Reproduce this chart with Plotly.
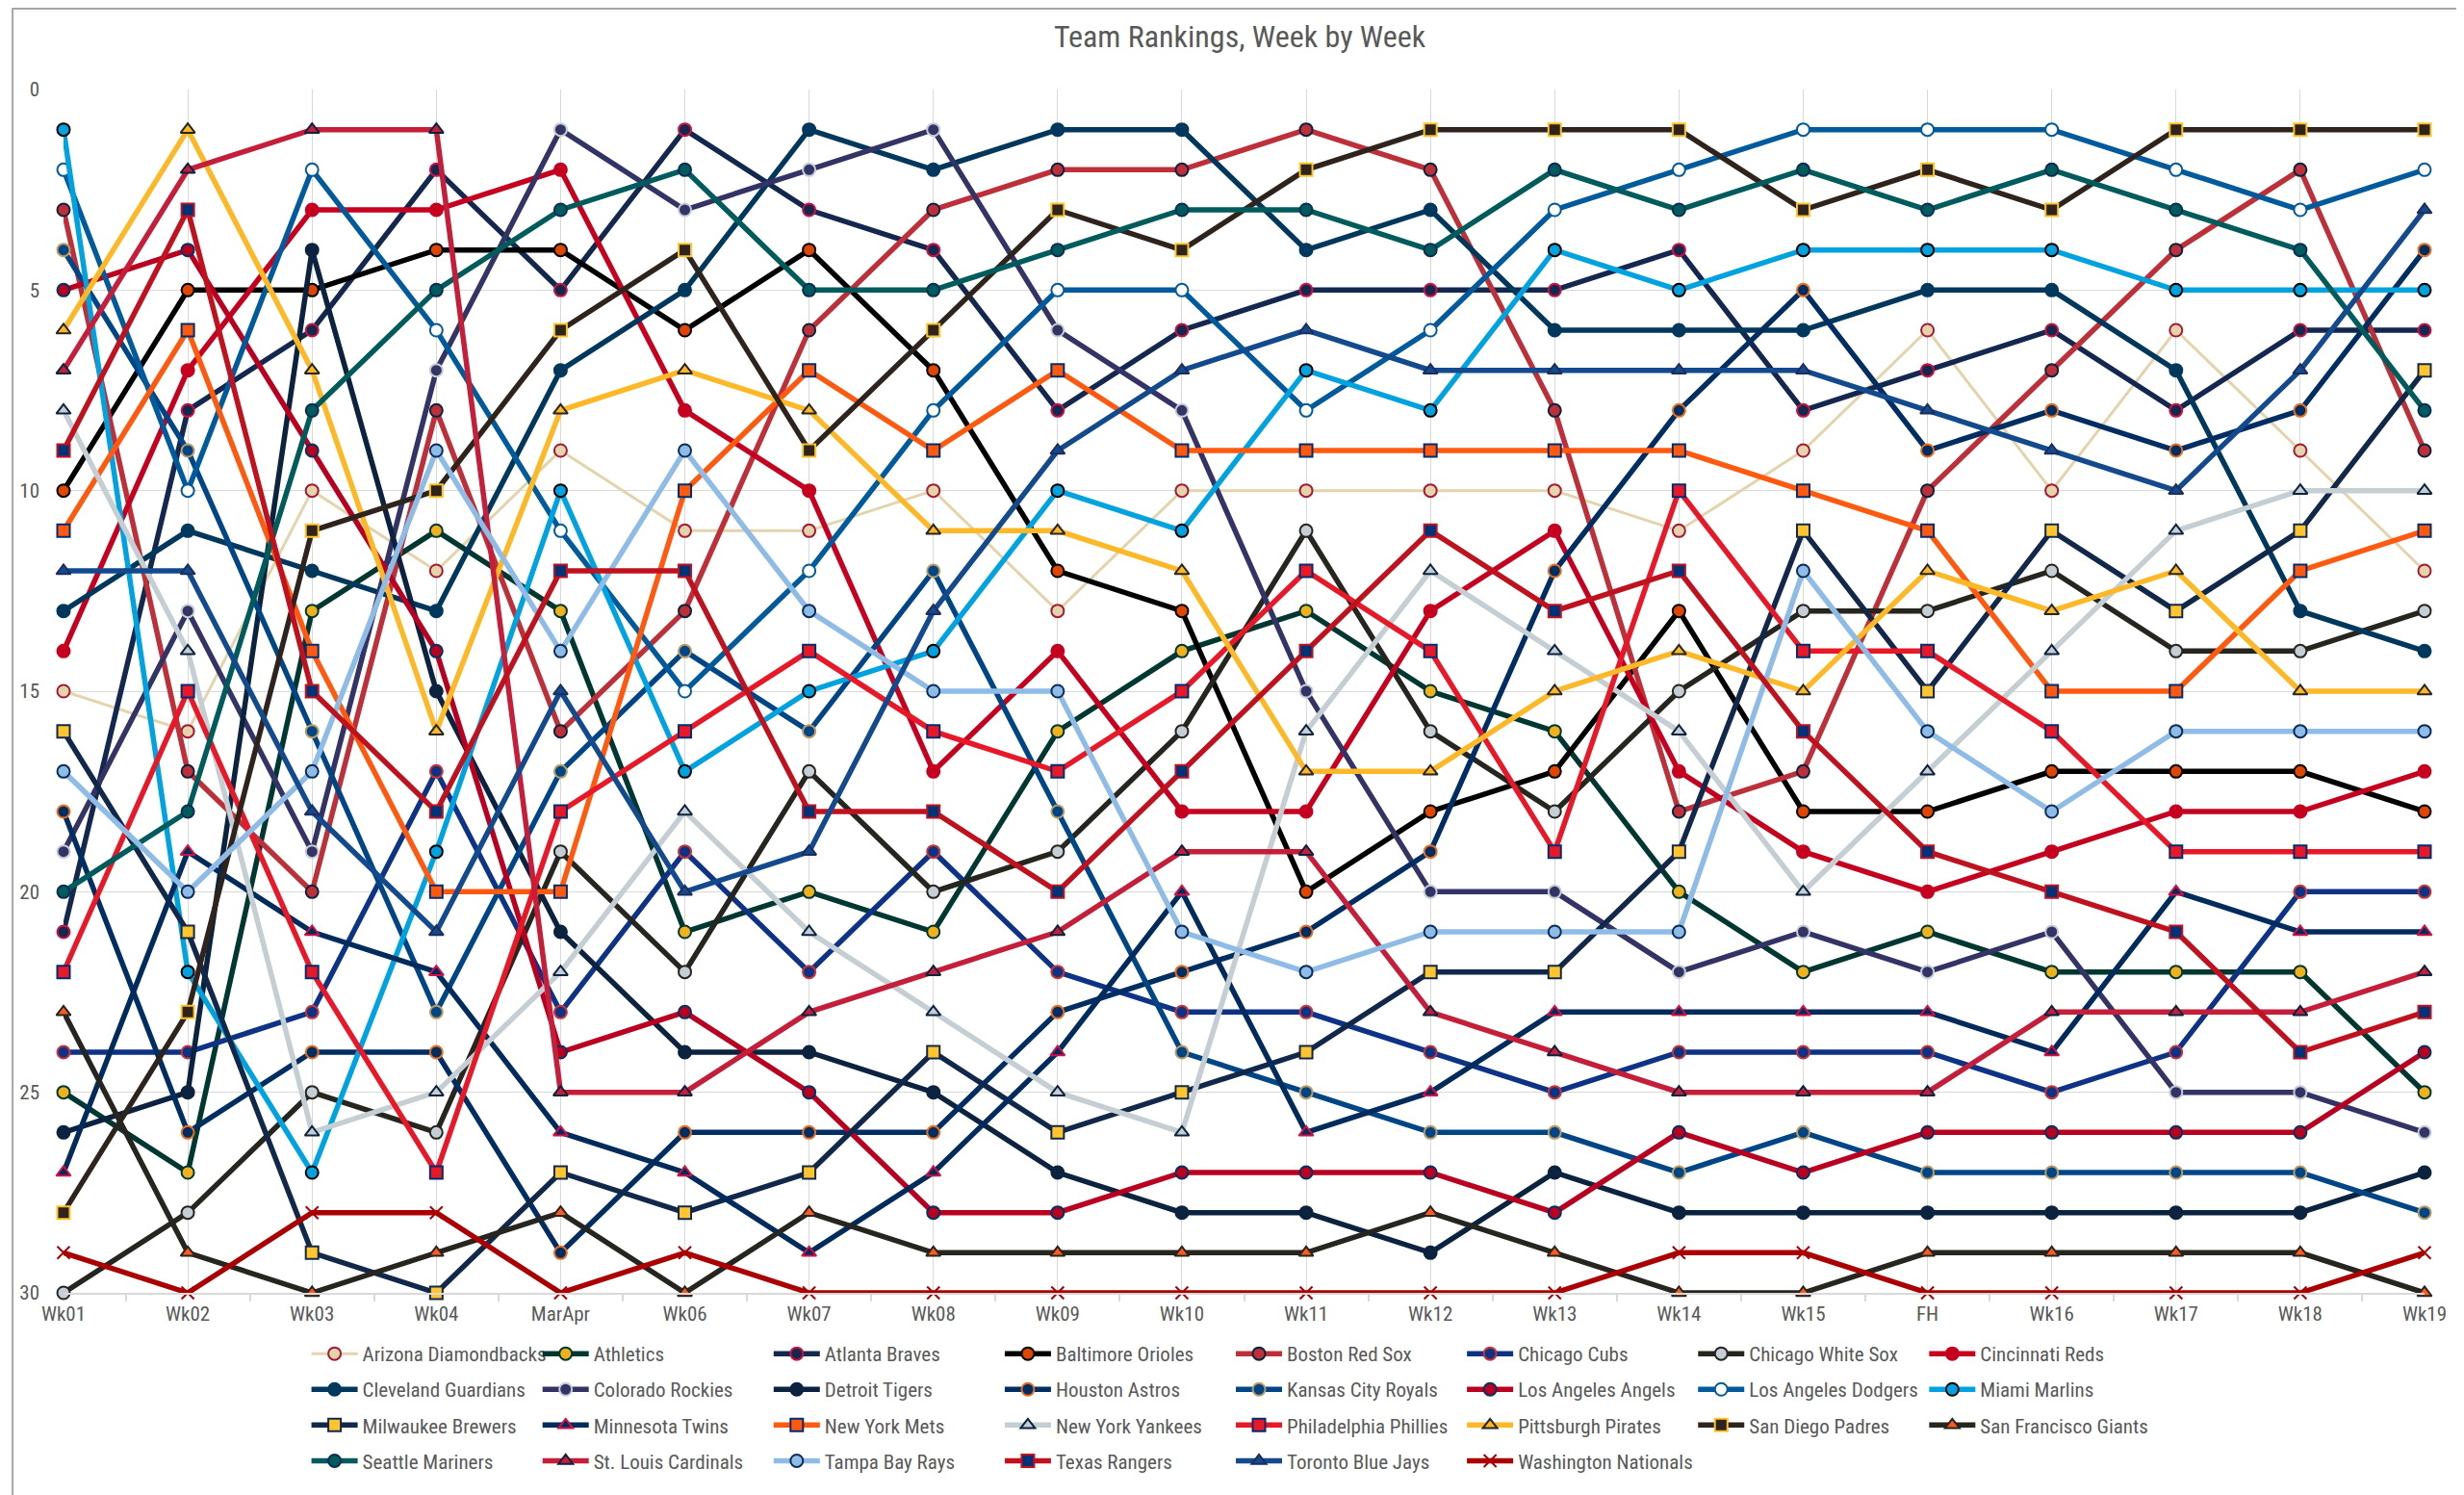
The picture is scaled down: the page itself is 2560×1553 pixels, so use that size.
import plotly.graph_objects as go

weeks = ["Wk01", "Wk02", "Wk03", "Wk04", "MarApr", "Wk06", "Wk07", "Wk08", "Wk09", "Wk10",
         "Wk11", "Wk12", "Wk13", "Wk14", "Wk15", "FH", "Wk16", "Wk17", "Wk18", "Wk19"]

# weekly power ranking of each team (1 = best)
arizona = [15, 16, 10, 12, 9, 11, 11, 10, 13, 10, 10, 10, 10, 11, 9, 6, 10, 6, 9, 12]
athletics = [25, 27, 13, 11, 13, 21, 20, 21, 16, 14, 13, 15, 16, 20, 22, 21, 22, 22, 22, 25]
atlanta = [21, 8, 6, 2, 5, 1, 3, 4, 8, 6, 5, 5, 5, 4, 8, 7, 6, 8, 6, 6]
baltimore = [10, 5, 5, 4, 4, 6, 4, 7, 12, 13, 20, 18, 17, 13, 18, 18, 17, 17, 17, 18]
boston = [3, 17, 20, 8, 16, 13, 6, 3, 2, 2, 1, 2, 8, 18, 17, 10, 7, 4, 2, 9]
cubs = [24, 24, 23, 17, 23, 19, 22, 19, 22, 23, 23, 24, 25, 24, 24, 24, 25, 24, 20, 20]
white_sox = [30, 28, 25, 26, 19, 22, 17, 20, 19, 16, 11, 16, 18, 15, 13, 13, 12, 14, 14, 13]
reds = [14, 7, 3, 3, 2, 8, 10, 17, 14, 18, 18, 13, 11, 17, 19, 20, 19, 18, 18, 17]
cleveland = [13, 11, 12, 13, 7, 5, 1, 2, 1, 1, 4, 3, 6, 6, 6, 5, 5, 7, 13, 14]
rockies = [19, 13, 19, 7, 1, 3, 2, 1, 6, 8, 15, 20, 20, 22, 21, 22, 21, 25, 25, 26]
detroit = [26, 25, 4, 15, 21, 24, 24, 25, 27, 28, 28, 29, 27, 28, 28, 28, 28, 28, 28, 27]
houston = [18, 26, 24, 24, 29, 26, 26, 26, 23, 22, 21, 19, 12, 8, 5, 9, 8, 9, 8, 4]
kansas_city = [4, 9, 16, 23, 17, 14, 16, 12, 18, 24, 25, 26, 26, 27, 26, 27, 27, 27, 27, 28]
angels = [5, 4, 9, 14, 24, 23, 25, 28, 28, 27, 27, 27, 28, 26, 27, 26, 26, 26, 26, 24]
dodgers = [2, 10, 2, 6, 11, 15, 12, 8, 5, 5, 8, 6, 3, 2, 1, 1, 1, 2, 3, 2]
miami = [1, 22, 27, 19, 10, 17, 15, 14, 10, 11, 7, 8, 4, 5, 4, 4, 4, 5, 5, 5]
milwaukee = [16, 21, 29, 30, 27, 28, 27, 24, 26, 25, 24, 22, 22, 19, 11, 15, 11, 13, 11, 7]
twins = [27, 19, 21, 22, 26, 27, 29, 27, 24, 20, 26, 25, 23, 23, 23, 23, 24, 20, 21, 21]
mets = [11, 6, 14, 20, 20, 10, 7, 9, 7, 9, 9, 9, 9, 9, 10, 11, 15, 15, 12, 11]
yankees = [8, 14, 26, 25, 22, 18, 21, 23, 25, 26, 16, 12, 14, 16, 20, 17, 14, 11, 10, 10]
phillies = [22, 15, 22, 27, 18, 16, 14, 16, 17, 15, 12, 14, 19, 10, 14, 14, 16, 19, 19, 19]
pirates = [6, 1, 7, 16, 8, 7, 8, 11, 11, 12, 17, 17, 15, 14, 15, 12, 13, 12, 15, 15]
padres = [28, 23, 11, 10, 6, 4, 9, 6, 3, 4, 2, 1, 1, 1, 3, 2, 3, 1, 1, 1]
giants = [23, 29, 30, 29, 28, 30, 28, 29, 29, 29, 29, 28, 29, 30, 30, 29, 29, 29, 29, 30]
seattle = [20, 18, 8, 5, 3, 2, 5, 5, 4, 3, 3, 4, 2, 3, 2, 3, 2, 3, 4, 8]
cardinals = [7, 2, 1, 1, 25, 25, 23, 22, 21, 19, 19, 23, 24, 25, 25, 25, 23, 23, 23, 22]
tampa_bay = [17, 20, 17, 9, 14, 9, 13, 15, 15, 21, 22, 21, 21, 21, 12, 16, 18, 16, 16, 16]
texas = [9, 3, 15, 18, 12, 12, 18, 18, 20, 17, 14, 11, 13, 12, 16, 19, 20, 21, 24, 23]
toronto = [12, 12, 18, 21, 15, 20, 19, 13, 9, 7, 6, 7, 7, 7, 7, 8, 9, 10, 7, 3]
washington = [29, 30, 28, 28, 30, 29, 30, 30, 30, 30, 30, 30, 30, 29, 29, 30, 30, 30, 30, 29]

teams = [
    ("Arizona Diamondbacks", arizona), ("Athletics", athletics), ("Atlanta Braves", atlanta),
    ("Baltimore Orioles", baltimore), ("Boston Red Sox", boston), ("Chicago Cubs", cubs),
    ("Chicago White Sox", white_sox), ("Cincinnati Reds", reds), ("Cleveland Guardians", cleveland),
    ("Colorado Rockies", rockies), ("Detroit Tigers", detroit), ("Houston Astros", houston),
    ("Kansas City Royals", kansas_city), ("Los Angeles Angels", angels), ("Los Angeles Dodgers", dodgers),
    ("Miami Marlins", miami), ("Milwaukee Brewers", milwaukee), ("Minnesota Twins", twins),
    ("New York Mets", mets), ("New York Yankees", yankees), ("Philadelphia Phillies", phillies),
    ("Pittsburgh Pirates", pirates), ("San Diego Padres", padres), ("San Francisco Giants", giants),
    ("Seattle Mariners", seattle), ("St. Louis Cardinals", cardinals), ("Tampa Bay Rays", tampa_bay),
    ("Texas Rangers", texas), ("Toronto Blue Jays", toronto), ("Washington Nationals", washington),
]

# line colour, marker symbol, marker fill, marker outline
styles = {
    "Arizona Diamondbacks": ("#E3D4AD", "circle", "#E3D4AD", "#A71930"),
    "Athletics": ("#003831", "circle", "#EFB21E", "#003831"),
    "Atlanta Braves": ("#13274F", "circle", "#13274F", "#CE1141"),
    "Baltimore Orioles": ("#000000", "circle", "#DF4601", "#000000"),
    "Boston Red Sox": ("#BD3039", "circle", "#BD3039", "#0C2340"),
    "Chicago Cubs": ("#0E3386", "circle", "#0E3386", "#CC3433"),
    "Chicago White Sox": ("#27251F", "circle", "#C4CED4", "#27251F"),
    "Cincinnati Reds": ("#C6011F", "circle", "#C6011F", "#C6011F"),
    "Cleveland Guardians": ("#00385D", "circle", "#00385D", "#00385D"),
    "Colorado Rockies": ("#333366", "circle", "#333366", "#C4CED4"),
    "Detroit Tigers": ("#0C2340", "circle", "#0C2340", "#0C2340"),
    "Houston Astros": ("#002D62", "circle", "#002D62", "#EB6E1F"),
    "Kansas City Royals": ("#004687", "circle", "#004687", "#BD9B60"),
    "Los Angeles Angels": ("#BA0021", "circle", "#BA0021", "#003263"),
    "Los Angeles Dodgers": ("#005A9C", "circle", "#FFFFFF", "#005A9C"),
    "Miami Marlins": ("#00A3E0", "circle", "#00A3E0", "#000000"),
    "Milwaukee Brewers": ("#12284B", "square", "#FFC52F", "#12284B"),
    "Minnesota Twins": ("#002B5C", "triangle-up", "#002B5C", "#D31145"),
    "New York Mets": ("#FF5910", "square", "#FF5910", "#002D72"),
    "New York Yankees": ("#C4CED3", "triangle-up", "#C4CED3", "#0C2340"),
    "Philadelphia Phillies": ("#E81828", "square", "#E81828", "#002D72"),
    "Pittsburgh Pirates": ("#FDB827", "triangle-up", "#FDB827", "#27251F"),
    "San Diego Padres": ("#2F241D", "square", "#2F241D", "#FFC425"),
    "San Francisco Giants": ("#27251F", "triangle-up", "#FD5A1E", "#27251F"),
    "Seattle Mariners": ("#005C5C", "circle", "#005C5C", "#0C2C56"),
    "St. Louis Cardinals": ("#C41E3A", "triangle-up", "#C41E3A", "#0C2340"),
    "Tampa Bay Rays": ("#8FBCE6", "circle", "#8FBCE6", "#092C5C"),
    "Texas Rangers": ("#C0111F", "square", "#003278", "#C0111F"),
    "Toronto Blue Jays": ("#134A8E", "triangle-up", "#134A8E", "#1D2D5C"),
    "Washington Nationals": ("#AB0003", "x-thin-open", "#AB0003", "#E0001B"),
}

FONT = "Roboto Condensed, Liberation Sans Narrow, Roboto, sans-serif"
GREY = "#595959"

W, H = 2560, 1553
L, R, T, B = 54, 49, 85, 218
pw, ph = W - L - R, H - T - B

fig = go.Figure()
for i, (name, ranks) in enumerate(teams):
    line_color, symbol, fill, outline = styles[name]
    col = i % 8
    fig.add_trace(go.Scatter(
        x=weeks, y=ranks, name=name,
        mode="lines+markers",
        line=dict(color=line_color, width=3 if name == "Arizona Diamondbacks" else 5.5),
        marker=dict(symbol=symbol, size=13, color=fill,
                    line=dict(color=outline, width=2)),
        cliponaxis=False,
        legendgroup=name,
        legend="legend" if col == 0 else "legend%d" % (col + 1),
    ))

# small tick marks between the categories on the bottom axis
fig.add_trace(go.Scatter(x=[0.5], y=[30], xaxis="x2", mode="markers",
                         marker=dict(opacity=0), showlegend=False, hoverinfo="skip"))

# legend laid out as 8 columns x 4 rows (one vertical legend per column)
legends = {}
for col in range(8):
    key = "legend" if col == 0 else "legend%d" % (col + 1)
    x_px = 307 + col * 240.5
    legends[key] = dict(
        x=(x_px - L) / pw, xanchor="left",
        y=(T + ph - 1378) / ph, yanchor="top",
        orientation="v", itemwidth=48, tracegroupgap=6.8,
        font=dict(family=FONT, size=21, color=GREY),
        bgcolor="rgba(0,0,0,0)", traceorder="grouped",
    )

fig.update_layout(
    width=W, height=H,
    margin=dict(l=L, r=R, t=T, b=B),
    paper_bgcolor="white", plot_bgcolor="white",
    font=dict(family=FONT, color=GREY),
    title=dict(text="Team Rankings, Week by Week", x=0.5, xanchor="center",
               y=1 - 30 / H, yanchor="middle",
               font=dict(family=FONT, size=32, color=GREY)),
    xaxis=dict(type="category", range=[0, 19], showgrid=True, gridcolor="#D9D9D9",
               showline=True, linecolor="#D9D9D9", linewidth=2, zeroline=False,
               tickfont=dict(size=21, color=GREY), ticklabelstandoff=2),
    xaxis2=dict(overlaying="x", anchor="y", side="bottom", range=[0, 19],
                tickvals=[k + 0.5 for k in range(19)], ticks="outside", ticklen=8,
                tickcolor="#D9D9D9", tickwidth=2, showticklabels=False,
                showgrid=False, zeroline=False, showline=False),
    yaxis=dict(range=[30, 0], tickvals=[0, 5, 10, 15, 20, 25, 30], showgrid=True,
               gridcolor="#D9D9D9", zeroline=False, showline=False,
               tickfont=dict(size=21, color=GREY), ticklabelstandoff=24),
    shapes=[dict(type="rect", xref="paper", yref="paper",
                 x0=(1 - L) / pw, x1=(W - 2 - L) / pw,
                 y0=(T + ph - (H - 2)) / ph, y1=(T + ph - 1) / ph,
                 line=dict(color="#A6A6A6", width=2))],
    **legends,
)

fig.write_html("out.html")
